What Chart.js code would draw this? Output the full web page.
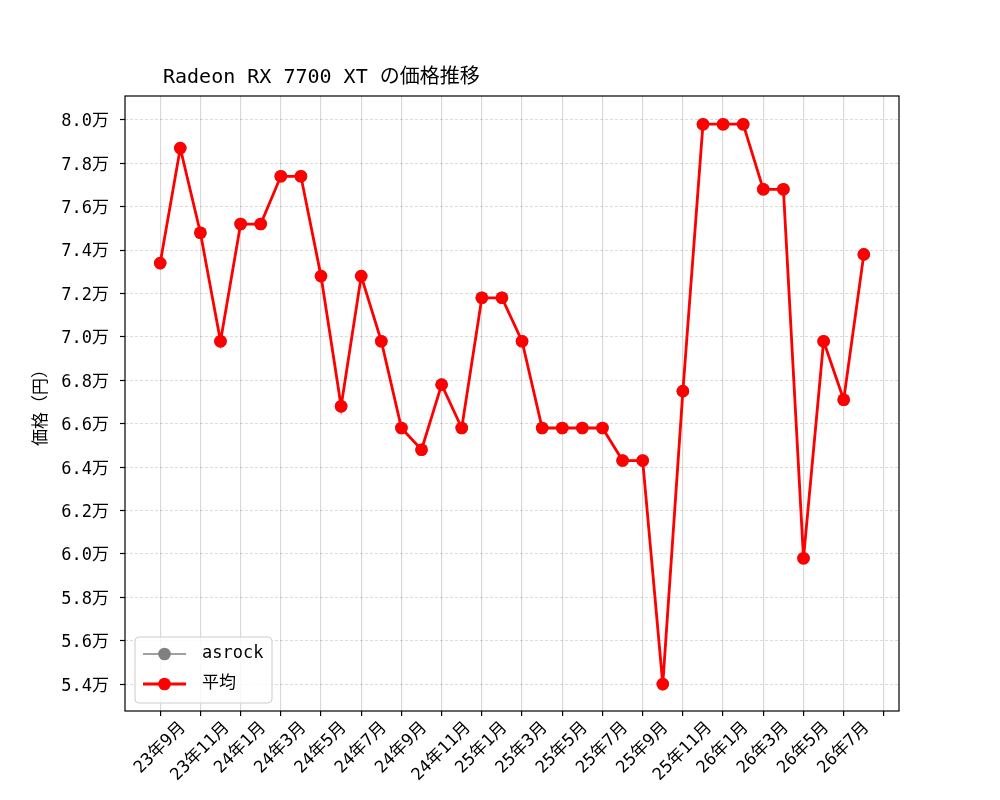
<!DOCTYPE html>
<html>
<head>
<meta charset="utf-8">
<script src="https://cdn.jsdelivr.net/npm/chart.js@4"></script>
<style>
html,body{margin:0;padding:0;background:#fff;}
#wrap{width:1000px;height:800px;}
</style>
</head>
<body>
<div id="wrap"><canvas id="c" width="1000" height="800"></canvas></div>
<script>
// ---- data ----
const chartTitle = 'Radeon RX 7700 XT の価格推移';
const yAxisTitle = '価格（円）';
const monthLabels = ['23年9月','23年10月','23年11月','23年12月','24年1月','24年2月','24年3月','24年4月','24年5月','24年6月','24年7月','24年8月','24年9月','24年10月','24年11月','24年12月','25年1月','25年2月','25年3月','25年4月','25年5月','25年6月','25年7月','25年8月','25年9月','25年10月','25年11月','25年12月','26年1月','26年2月','26年3月','26年4月','26年5月','26年6月','26年7月','26年8月'];
const xTickLabels = ['23年9月','23年11月','24年1月','24年3月','24年5月','24年7月','24年9月','24年11月','25年1月','25年3月','25年5月','25年7月','25年9月','25年11月','26年1月','26年3月','26年5月','26年7月',''];
const yTickValues = [54000,56000,58000,60000,62000,64000,66000,68000,70000,72000,74000,76000,78000,80000];
const asrockPrices = [73400,78700,74800,69800,75200,75200,77400,77400,72800,66800,72800,69800,65800,64800,67800,65800,71800,71800,69800,65800,65800,65800,65800,64300,64300,54000,67500,79800,79800,79800,76800,76800,59800,69800,67100,73800];
const avgPrices    = [73400,78700,74800,69800,75200,75200,77400,77400,72800,66800,72800,69800,65800,64800,67800,65800,71800,71800,69800,65800,65800,65800,65800,64300,64300,54000,67500,79800,79800,79800,76800,76800,59800,69800,67100,73800];
const seriesNames = ['asrock','平均'];
const seriesColors = ['#808080','#ff0000'];

const FONT = "'DejaVu Sans Mono', 'Noto Sans CJK JP', sans-serif";
const toPts = arr => arr.map((v,i)=>({x:i,y:v}));

const framePlugin = {
  id:'frame',
  afterDraw(chart){
    const {ctx, chartArea:a} = chart;
    ctx.save();
    ctx.strokeStyle = '#000'; ctx.lineWidth = 1.2;
    ctx.strokeRect(a.left, a.top, a.right-a.left, a.bottom-a.top);
    // title
    ctx.fillStyle = '#000';
    ctx.font = "20px " + FONT;
    ctx.textBaseline = 'alphabetic';
    ctx.textAlign = 'left';
    ctx.fillText(chartTitle, 163, 83);
    // x tick labels: rotated 45deg, bounding box centred on tick
    const xs = chart.scales.x;
    ctx.font = "17px " + FONT;
    ctx.textAlign = 'center';
    ctx.textBaseline = 'middle';
    const h = 17;
    xs.ticks.forEach(t => {
      const lab = xTickLabels[Math.round(t.value/2)];
      if (!lab) return;
      const w = ctx.measureText(lab).width;
      const px = xs.getPixelForValue(t.value);
      const half = (w + h) / 2 * Math.SQRT1_2;
      const cy = a.bottom + 8 + half;
      ctx.save();
      ctx.translate(px, cy);
      ctx.rotate(-Math.PI/4);
      ctx.fillText(lab, 0, 0);
      ctx.restore();
    });
    // legend
    const lx = 135, ly = 637, lw = 137, lh = 66, r = 4;
    ctx.textAlign = 'left';
    ctx.beginPath();
    ctx.moveTo(lx+r, ly); ctx.lineTo(lx+lw-r, ly); ctx.quadraticCurveTo(lx+lw, ly, lx+lw, ly+r);
    ctx.lineTo(lx+lw, ly+lh-r); ctx.quadraticCurveTo(lx+lw, ly+lh, lx+lw-r, ly+lh);
    ctx.lineTo(lx+r, ly+lh); ctx.quadraticCurveTo(lx, ly+lh, lx, ly+lh-r);
    ctx.lineTo(lx, ly+r); ctx.quadraticCurveTo(lx, ly, lx+r, ly);
    ctx.closePath();
    ctx.fillStyle = 'rgba(255,255,255,0.8)'; ctx.fill();
    ctx.strokeStyle = '#cccccc'; ctx.lineWidth = 1; ctx.stroke();
    const rows = [654, 684];
    const widths = [1.5, 2.8];
    seriesNames.forEach((name, i) => {
      const y = rows[i];
      ctx.strokeStyle = seriesColors[i]; ctx.lineWidth = widths[i];
      ctx.beginPath(); ctx.moveTo(143, y); ctx.lineTo(186, y); ctx.stroke();
      ctx.fillStyle = seriesColors[i];
      ctx.beginPath(); ctx.arc(164.5, y, 6.3, 0, Math.PI*2); ctx.fill();
      ctx.fillStyle = '#000';
      ctx.font = "17px " + FONT;
      ctx.textBaseline = 'middle';
      ctx.fillText(name, 202, y);
    });
    ctx.restore();
  }
};

new Chart(document.getElementById('c'), {
  type:'line',
  data:{
    datasets:[
      {label:seriesNames[0], data:toPts(asrockPrices), borderColor:seriesColors[0], backgroundColor:seriesColors[0],
       borderWidth:1.5, pointRadius:6.3, pointBorderWidth:0, pointHoverRadius:6.3, tension:0, order:1},
      {label:seriesNames[1], data:toPts(avgPrices), borderColor:seriesColors[1], backgroundColor:seriesColors[1],
       borderWidth:2.8, pointRadius:6.3, pointBorderWidth:0, pointHoverRadius:6.3, tension:0, order:0}
    ]
  },
  options:{
    responsive:false, animation:false, devicePixelRatio:1,
    layout:{padding:{top:96, right:101, left:0, bottom:0}},
    plugins:{legend:{display:false}, title:{display:false}, tooltip:{enabled:false}},
    scales:{
      x:{
        type:'linear', min:-1.75, max:36.75,
        afterBuildTicks(s){ s.ticks = xTickLabels.map((_,i)=>({value:i*2})); },
        afterFit(s){ s.height = 89; },
        ticks:{
          callback:(v)=> xTickLabels[Math.round(v/2)],
          minRotation:45, maxRotation:45, autoSkip:false,
          color:'rgba(0,0,0,0)', font:{family:FONT, size:17}, padding:2
        },
        grid:{color:'rgba(0,0,0,0.15)', lineWidth:1.2, tickColor:'#000', tickLength:5, tickWidth:1.2},
        border:{display:false}
      },
      y:{
        type:'linear', min:52760, max:81100,
        afterBuildTicks(s){ s.ticks = yTickValues.map(v=>({value:v})); },
        afterFit(s){ s.width = 125; },
        ticks:{
          callback:(v)=> (v/10000).toFixed(1)+'万',
          color:'#000', font:{family:FONT, size:17}, padding:11, labelOffset:2
        },
        title:{display:true, text:yAxisTitle, color:'#000', font:{family:FONT, size:17}, padding:{top:31, bottom:0}},
        grid:{color:'rgba(0,0,0,0.18)', lineWidth:0.8, tickColor:'#000', tickLength:5, tickWidth:1.2, tickBorderDash:[]},
        border:{display:false, dash:[3,2]}
      }
    }
  },
  plugins:[framePlugin]
});
</script>
</body>
</html>
